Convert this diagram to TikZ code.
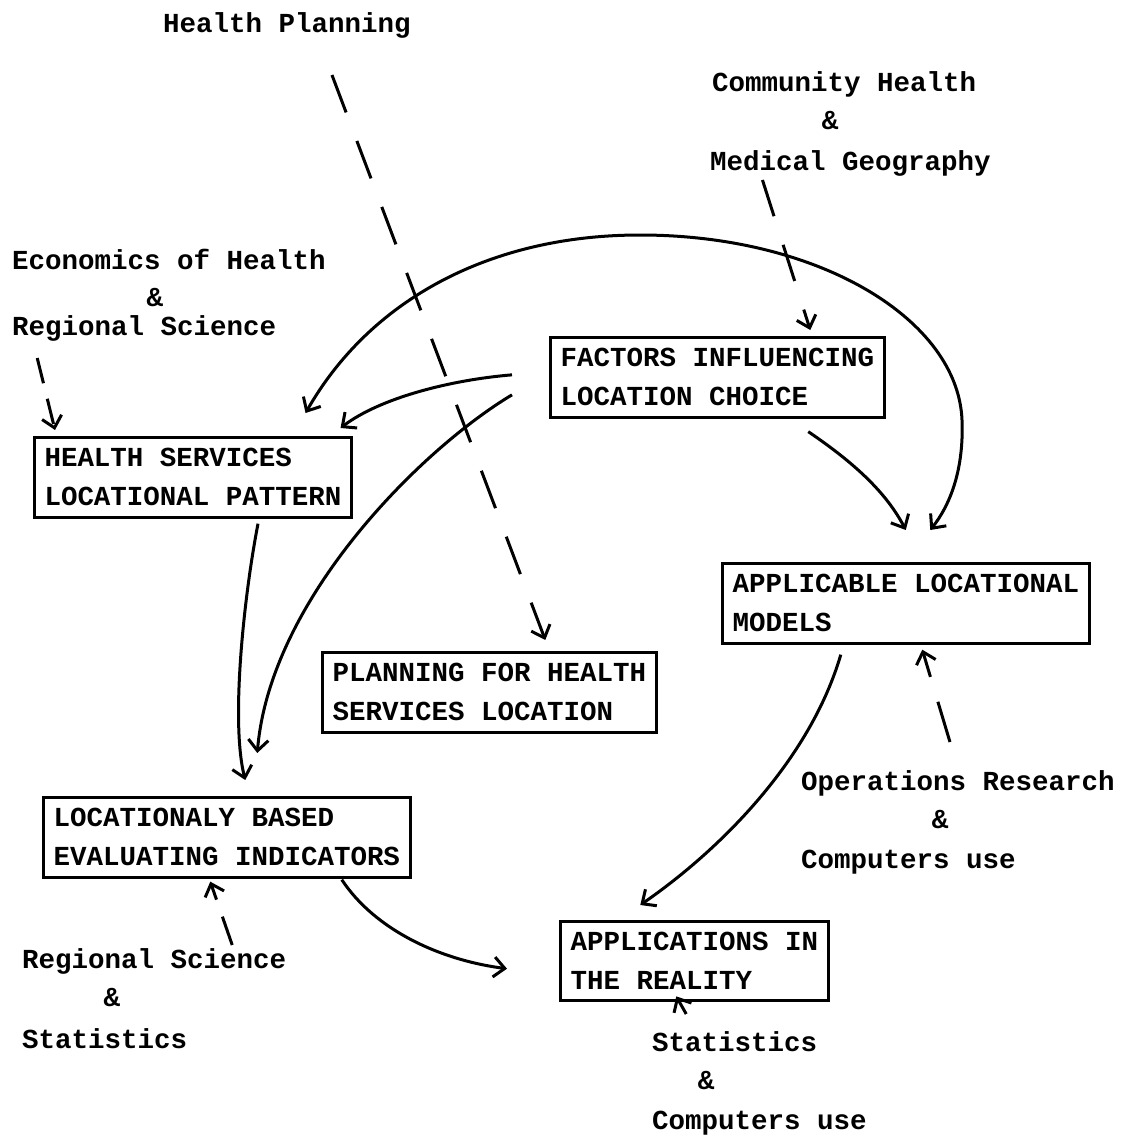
\documentclass[tikz,border=0pt]{standalone}
\usepackage{fontspec}
\newfontfamily\typew{Liberation Mono}
\newcommand{\tw}{\typew\bfseries\fontsize{27.5}{39}\selectfont}
\usetikzlibrary{arrows.meta,calc}

\begin{document}
\begin{tikzpicture}[x=1pt,y=-1pt,
    box/.style={draw,line width=3pt,align=left,inner xsep=10pt,inner ysep=11pt,anchor=north west,font=\tw},
    lbl/.style={anchor=base west,inner sep=0pt,font=\tw},
    amp/.style={anchor=base,inner sep=0pt,font=\tw},
    link/.style={line width=3pt,-{Straight Barb[length=11pt,width=20pt]}},
    dlink/.style={link,dash pattern=on 38pt off 30pt}]
    \useasboundingbox (0,0) rectangle (1126,1136);

    % the boxes
    \node[box] (factors) at (549,336) {FACTORS INFLUENCING\\LOCATION CHOICE};
    \node[box] (health) at (33,436) {HEALTH SERVICES\\LOCATIONAL PATTERN};
    \node[box] (models) at (721,562) {APPLICABLE LOCATIONAL\\MODELS};
    \node[box] (planning) at (321,651) {PLANNING FOR HEALTH\\SERVICES LOCATION};
    \node[box] (indicators) at (42,796) {LOCATIONALY BASED\\EVALUATING INDICATORS};
    \node[box] (reality) at (559,920) {APPLICATIONS IN\\THE REALITY};

    % the disciplines
    \node[lbl] (hplan) at (163,32) {Health Planning};
    \node[lbl] (comm1) at (712,91) {Community Health};
    \node[amp] (comm2) at (830,129) {\&};
    \node[lbl] (comm3) at (710,170) {Medical Geography};
    \node[lbl] (econ1) at (12,269) {Economics of Health};
    \node[amp] (econ2) at (155,306) {\&};
    \node[lbl] (econ3) at (12,335) {Regional Science};
    \node[lbl] (ops1) at (801,790) {Operations Research};
    \node[amp] (ops2) at (940,828) {\&};
    \node[lbl] (ops3) at (801,868) {Computers use};
    \node[lbl] (regsc1) at (22,968) {Regional Science};
    \node[amp] (regsc2) at (112,1006) {\&};
    \node[lbl] (regsc3) at (22,1048) {Statistics};
    \node[lbl] (stat1) at (652,1051) {Statistics};
    \node[amp] (stat2) at (706,1089) {\&};
    \node[lbl] (stat3) at (652,1129) {Computers use};

    % solid links
    \draw[link] ($(factors.west)+(-37,-2.5)$) .. controls (450,380) and (380,398) .. ($(health.north east)+(-12.5,-8)$);
    \draw[link,{Straight Barb[length=11pt,width=20pt]}-{Straight Barb[length=11pt,width=20pt]}] ($(health.north east)+(-47.5,-23)$) .. controls (370,300) and (490,235) .. (640,235)
        .. controls (820,235) and (958,320) .. (962,420) .. controls (964,470) and (950,505) .. ($(models.north)+(24.5,-32)$);
    \draw[link] ($(factors.west)+(-37,17.5)$) .. controls (420,450) and (270,600) .. ($(indicators.north)+(30.5,-43)$);
    \draw[link] ($(health.south)+(65,5)$) .. controls (245,590) and (230,720) .. ($(indicators.north)+(18.5,-16)$);
    \draw[link] ($(factors.south)+(91,13)$) .. controls (850,460) and (885,490) .. ($(models.north)+(0,-32)$);
    \draw[link] ($(models.south)+(-65,10)$) .. controls (810,760) and (720,850) .. ($(reality.north)+(-54,-15)$);
    \draw[link] ($(indicators.south)+(115,1)$) .. controls (375,930) and (440,960) .. ($(reality.west)+(-52,7.5)$);

    % dashed links
    \draw[dlink,dash pattern=on 40pt off 30.5pt] ($(hplan.base)+(45,43)$) -- ($(planning.north)+(56,-11)$);
    \draw[dlink] ($(comm3.base)+(-88,10)$) -- ($(factors.north)+(93,-6)$);
    \draw[dlink,dash pattern=on 26pt off 16pt] ($(econ3.base)+(-107,23)$) -- ($(health.north west)+(22,-6)$);
    \draw[dlink,dash pattern=on 42pt off 26pt] ($(ops1.base)+(-8,-48)$) -- ($(models.south)+(16.5,5)$);
    \draw[dlink,dash pattern=on 30pt off 18pt] ($(regsc1.base)+(78,-23)$) -- ($(indicators.south)+(-16.5,3)$);
    \draw[link] ($(stat1.base)+(-48.5,-37)$) -- ($(reality.south)+(-18,-6)$);
\end{tikzpicture}
\end{document}
